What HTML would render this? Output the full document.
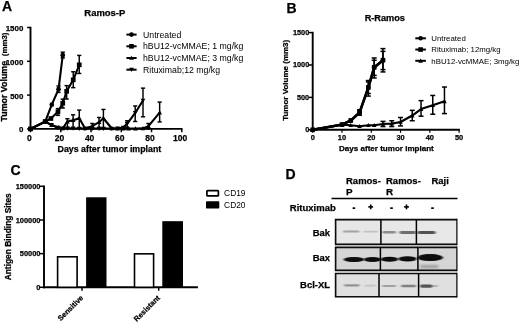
<!DOCTYPE html>
<html><head><meta charset="utf-8"><style>
html,body{margin:0;padding:0;background:#fff;}svg{display:block}text{font-family:"Liberation Sans",sans-serif;fill:#000}
</style></head><body>
<svg width="520" height="322" viewBox="0 0 520 322">
<defs><filter id="bl" x="-20%" y="-100%" width="140%" height="300%"><feGaussianBlur stdDeviation="1.3 0.7"/></filter>
<filter id="bl2" x="-20%" y="-100%" width="140%" height="300%"><feGaussianBlur stdDeviation="1.5 0.9"/></filter>
<filter id="bl3" x="-20%" y="-100%" width="140%" height="300%"><feGaussianBlur stdDeviation="1.1 0.6"/></filter><filter id="soft"><feGaussianBlur stdDeviation="0.35"/></filter></defs>
<rect width="520" height="322" fill="#fff"/>
<g filter="url(#soft)">
<text x="2" y="10.8" font-size="14" font-weight="bold" text-anchor="start"  stroke="#000" stroke-width="0.25">A</text>
<text x="104.8" y="16.0" font-size="8.7" font-weight="bold" text-anchor="middle"  textLength="41" lengthAdjust="spacingAndGlyphs" stroke="#000" stroke-width="0.25">Ramos-P</text>
<line x1="30.50" y1="26.80" x2="30.50" y2="129.80" stroke="#000" stroke-width="1.9" />
<line x1="29.60" y1="128.90" x2="182.50" y2="128.90" stroke="#000" stroke-width="1.9" />
<line x1="27.10" y1="128.90" x2="30.50" y2="128.90" stroke="#000" stroke-width="1.5" />
<text x="23.3" y="132.3" font-size="7.9" font-weight="bold" text-anchor="end"  stroke="#000" stroke-width="0.25">0</text>
<line x1="27.10" y1="95.10" x2="30.50" y2="95.10" stroke="#000" stroke-width="1.5" />
<text x="23.3" y="98.5" font-size="7.9" font-weight="bold" text-anchor="end"  stroke="#000" stroke-width="0.25">500</text>
<line x1="27.10" y1="61.30" x2="30.50" y2="61.30" stroke="#000" stroke-width="1.5" />
<text x="23.3" y="64.7" font-size="7.9" font-weight="bold" text-anchor="end"  stroke="#000" stroke-width="0.25">1000</text>
<line x1="27.10" y1="27.50" x2="30.50" y2="27.50" stroke="#000" stroke-width="1.5" />
<text x="23.3" y="30.9" font-size="7.9" font-weight="bold" text-anchor="end"  stroke="#000" stroke-width="0.25">1500</text>
<line x1="30.50" y1="128.90" x2="30.50" y2="132.20" stroke="#000" stroke-width="1.5" />
<text x="29.3" y="140.7" font-size="8.5" font-weight="bold" text-anchor="middle"  stroke="#000" stroke-width="0.25">0</text>
<line x1="60.76" y1="128.90" x2="60.76" y2="132.20" stroke="#000" stroke-width="1.5" />
<text x="59.46" y="140.7" font-size="8.5" font-weight="bold" text-anchor="middle"  stroke="#000" stroke-width="0.25">20</text>
<line x1="91.02" y1="128.90" x2="91.02" y2="132.20" stroke="#000" stroke-width="1.5" />
<text x="89.62" y="140.7" font-size="8.5" font-weight="bold" text-anchor="middle"  stroke="#000" stroke-width="0.25">40</text>
<line x1="121.28" y1="128.90" x2="121.28" y2="132.20" stroke="#000" stroke-width="1.5" />
<text x="119.78" y="140.7" font-size="8.5" font-weight="bold" text-anchor="middle"  stroke="#000" stroke-width="0.25">60</text>
<line x1="151.54" y1="128.90" x2="151.54" y2="132.20" stroke="#000" stroke-width="1.5" />
<text x="149.94" y="140.7" font-size="8.5" font-weight="bold" text-anchor="middle"  stroke="#000" stroke-width="0.25">80</text>
<line x1="181.80" y1="128.90" x2="181.80" y2="132.20" stroke="#000" stroke-width="1.5" />
<text x="180.10000000000002" y="140.7" font-size="8.5" font-weight="bold" text-anchor="middle"  stroke="#000" stroke-width="0.25">100</text>
<text x="109.4" y="151.7" font-size="8.5" font-weight="bold" text-anchor="middle"  textLength="103.6" lengthAdjust="spacingAndGlyphs" stroke="#000" stroke-width="0.25">Days after tumor implant</text>
<text transform="translate(7.3,121.5) rotate(-90)" font-size="8.8" font-weight="bold" stroke="#000" stroke-width="0.3" textLength="60.6" lengthAdjust="spacingAndGlyphs">Tumor Volume</text>
<text transform="translate(7.0,56.2) rotate(-90)" font-size="8.0" font-weight="bold" stroke="#000" stroke-width="0.25" textLength="23.6" lengthAdjust="spacingAndGlyphs">(mm3)</text>
<line x1="127.10" y1="127.21" x2="127.10" y2="120.79" stroke="#000" stroke-width="1.45" />
<line x1="125.00" y1="127.21" x2="129.20" y2="127.21" stroke="#000" stroke-width="1.45" />
<line x1="125.00" y1="120.79" x2="129.20" y2="120.79" stroke="#000" stroke-width="1.45" />
<line x1="135.20" y1="121.46" x2="135.20" y2="105.98" stroke="#000" stroke-width="1.45" />
<line x1="133.10" y1="121.46" x2="137.30" y2="121.46" stroke="#000" stroke-width="1.45" />
<line x1="133.10" y1="105.98" x2="137.30" y2="105.98" stroke="#000" stroke-width="1.45" />
<line x1="143.00" y1="116.80" x2="143.00" y2="88.14" stroke="#000" stroke-width="1.45" />
<line x1="140.90" y1="116.80" x2="145.10" y2="116.80" stroke="#000" stroke-width="1.45" />
<line x1="140.90" y1="88.14" x2="145.10" y2="88.14" stroke="#000" stroke-width="1.45" />
<polyline points="30.50,128.90 45.20,121.60 51.50,124.84 58.25,127.68 62.75,128.36 67.40,128.36 73.10,128.49 79.25,128.56 84.95,128.56 92.30,128.56 99.05,128.56 103.40,128.56 111.80,128.56 117.50,128.36 123.20,127.55 127.10,123.83 135.20,112.95 143.00,100.51" fill="none" stroke="#000" stroke-width="2.1" stroke-linejoin="round" stroke-linecap="round"/>
<path d="M28.15,127.02 L32.85,127.02 L30.50,131.25Z" fill="#000"/>
<path d="M42.85,119.72 L47.55,119.72 L45.20,123.95Z" fill="#000"/>
<path d="M49.15,122.96 L53.85,122.96 L51.50,127.19Z" fill="#000"/>
<path d="M55.90,125.80 L60.60,125.80 L58.25,130.03Z" fill="#000"/>
<path d="M60.40,126.48 L65.10,126.48 L62.75,130.71Z" fill="#000"/>
<path d="M65.05,126.48 L69.75,126.48 L67.40,130.71Z" fill="#000"/>
<path d="M70.75,126.61 L75.45,126.61 L73.10,130.84Z" fill="#000"/>
<path d="M76.90,126.68 L81.60,126.68 L79.25,130.91Z" fill="#000"/>
<path d="M82.60,126.68 L87.30,126.68 L84.95,130.91Z" fill="#000"/>
<path d="M89.95,126.68 L94.65,126.68 L92.30,130.91Z" fill="#000"/>
<path d="M96.70,126.68 L101.40,126.68 L99.05,130.91Z" fill="#000"/>
<path d="M101.05,126.68 L105.75,126.68 L103.40,130.91Z" fill="#000"/>
<path d="M109.45,126.68 L114.15,126.68 L111.80,130.91Z" fill="#000"/>
<path d="M115.15,126.48 L119.85,126.48 L117.50,130.71Z" fill="#000"/>
<path d="M120.85,125.67 L125.55,125.67 L123.20,129.90Z" fill="#000"/>
<path d="M124.75,121.95 L129.45,121.95 L127.10,126.18Z" fill="#000"/>
<path d="M132.85,111.07 L137.55,111.07 L135.20,115.30Z" fill="#000"/>
<path d="M140.65,98.63 L145.35,98.63 L143.00,102.86Z" fill="#000"/>
<line x1="67.40" y1="127.55" x2="67.40" y2="118.76" stroke="#000" stroke-width="1.45" />
<line x1="65.30" y1="127.55" x2="69.50" y2="127.55" stroke="#000" stroke-width="1.45" />
<line x1="65.30" y1="118.76" x2="69.50" y2="118.76" stroke="#000" stroke-width="1.45" />
<line x1="73.10" y1="127.89" x2="73.10" y2="114.84" stroke="#000" stroke-width="1.45" />
<line x1="71.00" y1="127.89" x2="75.20" y2="127.89" stroke="#000" stroke-width="1.45" />
<line x1="71.00" y1="114.84" x2="75.20" y2="114.84" stroke="#000" stroke-width="1.45" />
<line x1="79.25" y1="127.89" x2="79.25" y2="110.11" stroke="#000" stroke-width="1.45" />
<line x1="77.15" y1="127.89" x2="81.35" y2="127.89" stroke="#000" stroke-width="1.45" />
<line x1="77.15" y1="110.11" x2="81.35" y2="110.11" stroke="#000" stroke-width="1.45" />
<line x1="92.30" y1="128.90" x2="92.30" y2="123.49" stroke="#000" stroke-width="1.45" />
<line x1="90.20" y1="128.90" x2="94.40" y2="128.90" stroke="#000" stroke-width="1.45" />
<line x1="90.20" y1="123.49" x2="94.40" y2="123.49" stroke="#000" stroke-width="1.45" />
<line x1="99.05" y1="127.55" x2="99.05" y2="117.48" stroke="#000" stroke-width="1.45" />
<line x1="96.95" y1="127.55" x2="101.15" y2="127.55" stroke="#000" stroke-width="1.45" />
<line x1="96.95" y1="117.48" x2="101.15" y2="117.48" stroke="#000" stroke-width="1.45" />
<line x1="103.40" y1="127.89" x2="103.40" y2="109.43" stroke="#000" stroke-width="1.45" />
<line x1="101.30" y1="127.89" x2="105.50" y2="127.89" stroke="#000" stroke-width="1.45" />
<line x1="101.30" y1="109.43" x2="105.50" y2="109.43" stroke="#000" stroke-width="1.45" />
<line x1="148.40" y1="128.90" x2="148.40" y2="123.49" stroke="#000" stroke-width="1.45" />
<line x1="146.30" y1="128.90" x2="150.50" y2="128.90" stroke="#000" stroke-width="1.45" />
<line x1="146.30" y1="123.49" x2="150.50" y2="123.49" stroke="#000" stroke-width="1.45" />
<line x1="159.65" y1="121.94" x2="159.65" y2="102.06" stroke="#000" stroke-width="1.45" />
<line x1="157.55" y1="121.94" x2="161.75" y2="121.94" stroke="#000" stroke-width="1.45" />
<line x1="157.55" y1="102.06" x2="161.75" y2="102.06" stroke="#000" stroke-width="1.45" />
<polyline points="30.50,128.90 45.20,121.60 51.50,125.18 58.25,127.41 62.75,128.36 67.40,121.53 73.10,120.18 79.25,118.22 84.95,128.36 92.30,126.20 99.05,122.21 103.40,118.22 111.80,128.49 117.50,128.56 123.20,128.56 128.60,128.56 135.50,128.56 143.00,128.36 148.40,126.13 159.65,112.68" fill="none" stroke="#000" stroke-width="2.1" stroke-linejoin="round" stroke-linecap="round"/>
<path d="M28.15,130.78 L32.85,130.78 L30.50,126.55Z" fill="#000"/>
<path d="M42.85,123.48 L47.55,123.48 L45.20,119.25Z" fill="#000"/>
<path d="M49.15,127.06 L53.85,127.06 L51.50,122.83Z" fill="#000"/>
<path d="M55.90,129.29 L60.60,129.29 L58.25,125.06Z" fill="#000"/>
<path d="M60.40,130.24 L65.10,130.24 L62.75,126.01Z" fill="#000"/>
<path d="M65.05,123.41 L69.75,123.41 L67.40,119.18Z" fill="#000"/>
<path d="M70.75,122.06 L75.45,122.06 L73.10,117.83Z" fill="#000"/>
<path d="M76.90,120.10 L81.60,120.10 L79.25,115.87Z" fill="#000"/>
<path d="M82.60,130.24 L87.30,130.24 L84.95,126.01Z" fill="#000"/>
<path d="M89.95,128.08 L94.65,128.08 L92.30,123.85Z" fill="#000"/>
<path d="M96.70,124.09 L101.40,124.09 L99.05,119.86Z" fill="#000"/>
<path d="M101.05,120.10 L105.75,120.10 L103.40,115.87Z" fill="#000"/>
<path d="M109.45,130.37 L114.15,130.37 L111.80,126.14Z" fill="#000"/>
<path d="M115.15,130.44 L119.85,130.44 L117.50,126.21Z" fill="#000"/>
<path d="M120.85,130.44 L125.55,130.44 L123.20,126.21Z" fill="#000"/>
<path d="M126.25,130.44 L130.95,130.44 L128.60,126.21Z" fill="#000"/>
<path d="M133.15,130.44 L137.85,130.44 L135.50,126.21Z" fill="#000"/>
<path d="M140.65,130.24 L145.35,130.24 L143.00,126.01Z" fill="#000"/>
<path d="M146.05,128.01 L150.75,128.01 L148.40,123.78Z" fill="#000"/>
<path d="M157.30,114.56 L162.00,114.56 L159.65,110.33Z" fill="#000"/>
<line x1="57.95" y1="115.38" x2="57.95" y2="108.62" stroke="#000" stroke-width="1.45" />
<line x1="55.85" y1="115.38" x2="60.05" y2="115.38" stroke="#000" stroke-width="1.45" />
<line x1="55.85" y1="108.62" x2="60.05" y2="108.62" stroke="#000" stroke-width="1.45" />
<line x1="62.75" y1="108.01" x2="62.75" y2="99.16" stroke="#000" stroke-width="1.45" />
<line x1="60.65" y1="108.01" x2="64.85" y2="108.01" stroke="#000" stroke-width="1.45" />
<line x1="60.65" y1="99.16" x2="64.85" y2="99.16" stroke="#000" stroke-width="1.45" />
<line x1="66.65" y1="99.02" x2="66.65" y2="85.64" stroke="#000" stroke-width="1.45" />
<line x1="64.55" y1="99.02" x2="68.75" y2="99.02" stroke="#000" stroke-width="1.45" />
<line x1="64.55" y1="85.64" x2="68.75" y2="85.64" stroke="#000" stroke-width="1.45" />
<line x1="73.25" y1="87.66" x2="73.25" y2="71.78" stroke="#000" stroke-width="1.45" />
<line x1="71.15" y1="87.66" x2="75.35" y2="87.66" stroke="#000" stroke-width="1.45" />
<line x1="71.15" y1="71.78" x2="75.35" y2="71.78" stroke="#000" stroke-width="1.45" />
<line x1="79.25" y1="73.47" x2="79.25" y2="55.42" stroke="#000" stroke-width="1.45" />
<line x1="77.15" y1="73.47" x2="81.35" y2="73.47" stroke="#000" stroke-width="1.45" />
<line x1="77.15" y1="55.42" x2="81.35" y2="55.42" stroke="#000" stroke-width="1.45" />
<polyline points="30.50,128.90 45.20,121.60 50.90,118.49 57.95,111.80 62.75,103.21 66.65,91.31 73.25,79.82 79.25,64.82" fill="none" stroke="#000" stroke-width="2.1" stroke-linejoin="round" stroke-linecap="round"/>
<rect x="28.15" y="126.55" width="4.7" height="4.7" fill="#000"/>
<rect x="42.85" y="119.25" width="4.7" height="4.7" fill="#000"/>
<rect x="48.55" y="116.14" width="4.7" height="4.7" fill="#000"/>
<rect x="55.60" y="109.45" width="4.7" height="4.7" fill="#000"/>
<rect x="60.40" y="100.86" width="4.7" height="4.7" fill="#000"/>
<rect x="64.30" y="88.96" width="4.7" height="4.7" fill="#000"/>
<rect x="70.90" y="77.47" width="4.7" height="4.7" fill="#000"/>
<rect x="76.90" y="62.47" width="4.7" height="4.7" fill="#000"/>
<line x1="58.55" y1="92.40" x2="58.55" y2="85.97" stroke="#000" stroke-width="1.45" />
<line x1="56.45" y1="92.40" x2="60.65" y2="92.40" stroke="#000" stroke-width="1.45" />
<line x1="56.45" y1="85.97" x2="60.65" y2="85.97" stroke="#000" stroke-width="1.45" />
<line x1="62.75" y1="57.92" x2="62.75" y2="52.17" stroke="#000" stroke-width="1.45" />
<line x1="60.65" y1="57.92" x2="64.85" y2="57.92" stroke="#000" stroke-width="1.45" />
<line x1="60.65" y1="52.17" x2="64.85" y2="52.17" stroke="#000" stroke-width="1.45" />
<polyline points="30.50,128.90 45.20,121.60 51.80,104.63 58.55,89.22 62.75,55.22" fill="none" stroke="#000" stroke-width="2.1" stroke-linejoin="round" stroke-linecap="round"/>
<circle cx="30.50" cy="128.90" r="2.35" fill="#000"/>
<circle cx="45.20" cy="121.60" r="2.35" fill="#000"/>
<circle cx="51.80" cy="104.63" r="2.35" fill="#000"/>
<circle cx="58.55" cy="89.22" r="2.35" fill="#000"/>
<circle cx="62.75" cy="55.22" r="2.35" fill="#000"/>
<line x1="126.40" y1="34.60" x2="136.60" y2="34.60" stroke="#000" stroke-width="2.0" />
<circle cx="131.50" cy="34.60" r="2.3" fill="#000"/>
<text x="143" y="37.7" font-size="8.73" font-weight="normal" text-anchor="start" >Untreated</text>
<line x1="126.40" y1="46.30" x2="136.60" y2="46.30" stroke="#000" stroke-width="2.0" />
<rect x="129.20" y="44.00" width="4.6" height="4.6" fill="#000"/>
<text x="143" y="49.4" font-size="8.73" font-weight="normal" text-anchor="start" >hBU12-vcMMAE; 1 mg/kg</text>
<line x1="126.40" y1="58.00" x2="136.60" y2="58.00" stroke="#000" stroke-width="2.0" />
<path d="M129.20,59.84 L133.80,59.84 L131.50,55.70Z" fill="#000"/>
<text x="143" y="61.1" font-size="8.73" font-weight="normal" text-anchor="start" >hBU12-vcMMAE; 3 mg/kg</text>
<line x1="126.40" y1="69.70" x2="136.60" y2="69.70" stroke="#000" stroke-width="2.0" />
<path d="M129.20,67.86 L133.80,67.86 L131.50,72.00Z" fill="#000"/>
<text x="143" y="72.79999999999998" font-size="8.73" font-weight="normal" text-anchor="start" >Rituximab;12 mg/kg</text>
<text x="286.5" y="13.1" font-size="14" font-weight="bold" text-anchor="start"  stroke="#000" stroke-width="0.25">B</text>
<text x="384.8" y="21.1" font-size="8.6" font-weight="bold" text-anchor="middle"  textLength="40.3" lengthAdjust="spacingAndGlyphs" stroke="#000" stroke-width="0.25">R-Ramos</text>
<line x1="312.70" y1="31.80" x2="312.70" y2="130.70" stroke="#000" stroke-width="1.9" />
<line x1="311.80" y1="129.80" x2="459.90" y2="129.80" stroke="#000" stroke-width="1.9" />
<line x1="308.70" y1="129.80" x2="312.70" y2="129.80" stroke="#000" stroke-width="1.5" />
<text x="309.2" y="131.9" font-size="7.3" font-weight="bold" text-anchor="end"  stroke="#000" stroke-width="0.25">0</text>
<line x1="308.70" y1="97.40" x2="312.70" y2="97.40" stroke="#000" stroke-width="1.5" />
<text x="309.2" y="99.5" font-size="7.3" font-weight="bold" text-anchor="end"  stroke="#000" stroke-width="0.25">500</text>
<line x1="308.70" y1="65.00" x2="312.70" y2="65.00" stroke="#000" stroke-width="1.5" />
<text x="309.2" y="67.10000000000001" font-size="7.3" font-weight="bold" text-anchor="end"  stroke="#000" stroke-width="0.25">1000</text>
<line x1="308.70" y1="32.60" x2="312.70" y2="32.60" stroke="#000" stroke-width="1.5" />
<text x="309.2" y="34.700000000000024" font-size="7.3" font-weight="bold" text-anchor="end"  stroke="#000" stroke-width="0.25">1500</text>
<line x1="312.70" y1="129.80" x2="312.70" y2="132.80" stroke="#000" stroke-width="1.2" />
<text x="312.7" y="140.0" font-size="7.4" font-weight="bold" text-anchor="middle"  stroke="#000" stroke-width="0.25">0</text>
<line x1="341.98" y1="129.80" x2="341.98" y2="132.80" stroke="#000" stroke-width="1.2" />
<text x="341.98" y="140.0" font-size="7.4" font-weight="bold" text-anchor="middle"  stroke="#000" stroke-width="0.25">10</text>
<line x1="371.26" y1="129.80" x2="371.26" y2="132.80" stroke="#000" stroke-width="1.2" />
<text x="371.26" y="140.0" font-size="7.4" font-weight="bold" text-anchor="middle"  stroke="#000" stroke-width="0.25">20</text>
<line x1="400.54" y1="129.80" x2="400.54" y2="132.80" stroke="#000" stroke-width="1.2" />
<text x="400.53999999999996" y="140.0" font-size="7.4" font-weight="bold" text-anchor="middle"  stroke="#000" stroke-width="0.25">30</text>
<line x1="429.82" y1="129.80" x2="429.82" y2="132.80" stroke="#000" stroke-width="1.2" />
<text x="429.82" y="140.0" font-size="7.4" font-weight="bold" text-anchor="middle"  stroke="#000" stroke-width="0.25">40</text>
<line x1="459.10" y1="129.80" x2="459.10" y2="132.80" stroke="#000" stroke-width="1.2" />
<text x="459.1" y="140.0" font-size="7.4" font-weight="bold" text-anchor="middle"  stroke="#000" stroke-width="0.25">50</text>
<text x="386.4" y="151.3" font-size="7.7" font-weight="bold" text-anchor="middle"  textLength="94.8" lengthAdjust="spacingAndGlyphs" stroke="#000" stroke-width="0.25">Days after tumor implant</text>
<text transform="translate(288.4,80.3) rotate(-90)" font-size="8.0" font-weight="bold" stroke="#000" stroke-width="0.25" text-anchor="middle">Tumor Volume (mm3)</text>
<line x1="382.97" y1="126.56" x2="382.97" y2="121.38" stroke="#000" stroke-width="1.5" />
<line x1="380.47" y1="126.56" x2="385.47" y2="126.56" stroke="#000" stroke-width="1.5" />
<line x1="380.47" y1="121.38" x2="385.47" y2="121.38" stroke="#000" stroke-width="1.5" />
<line x1="391.76" y1="126.56" x2="391.76" y2="120.73" stroke="#000" stroke-width="1.5" />
<line x1="389.26" y1="126.56" x2="394.26" y2="126.56" stroke="#000" stroke-width="1.5" />
<line x1="389.26" y1="120.73" x2="394.26" y2="120.73" stroke="#000" stroke-width="1.5" />
<line x1="400.54" y1="125.91" x2="400.54" y2="117.49" stroke="#000" stroke-width="1.5" />
<line x1="398.04" y1="125.91" x2="403.04" y2="125.91" stroke="#000" stroke-width="1.5" />
<line x1="398.04" y1="117.49" x2="403.04" y2="117.49" stroke="#000" stroke-width="1.5" />
<line x1="412.25" y1="120.73" x2="412.25" y2="110.36" stroke="#000" stroke-width="1.5" />
<line x1="409.75" y1="120.73" x2="414.75" y2="120.73" stroke="#000" stroke-width="1.5" />
<line x1="409.75" y1="110.36" x2="414.75" y2="110.36" stroke="#000" stroke-width="1.5" />
<line x1="421.04" y1="116.19" x2="421.04" y2="100.64" stroke="#000" stroke-width="1.5" />
<line x1="418.54" y1="116.19" x2="423.54" y2="116.19" stroke="#000" stroke-width="1.5" />
<line x1="418.54" y1="100.64" x2="423.54" y2="100.64" stroke="#000" stroke-width="1.5" />
<line x1="432.75" y1="114.25" x2="432.75" y2="95.46" stroke="#000" stroke-width="1.5" />
<line x1="430.25" y1="114.25" x2="435.25" y2="114.25" stroke="#000" stroke-width="1.5" />
<line x1="430.25" y1="95.46" x2="435.25" y2="95.46" stroke="#000" stroke-width="1.5" />
<line x1="444.46" y1="113.60" x2="444.46" y2="87.03" stroke="#000" stroke-width="1.5" />
<line x1="441.96" y1="113.60" x2="446.96" y2="113.60" stroke="#000" stroke-width="1.5" />
<line x1="441.96" y1="87.03" x2="446.96" y2="87.03" stroke="#000" stroke-width="1.5" />
<polyline points="312.70,129.80 341.98,124.62 350.76,125.26 359.55,126.24 368.33,125.26 374.19,125.26 382.97,123.97 391.76,123.64 400.54,122.02 412.25,115.54 421.04,109.06 432.75,105.18 444.46,101.29" fill="none" stroke="#000" stroke-width="2.2" stroke-linejoin="round" stroke-linecap="round"/>
<path d="M310.40,131.64 L315.00,131.64 L312.70,127.50Z" fill="#000"/>
<path d="M339.68,126.46 L344.28,126.46 L341.98,122.32Z" fill="#000"/>
<path d="M348.46,127.10 L353.06,127.10 L350.76,122.96Z" fill="#000"/>
<path d="M357.25,128.08 L361.85,128.08 L359.55,123.94Z" fill="#000"/>
<path d="M366.03,127.10 L370.63,127.10 L368.33,122.96Z" fill="#000"/>
<path d="M371.89,127.10 L376.49,127.10 L374.19,122.96Z" fill="#000"/>
<path d="M380.67,125.81 L385.27,125.81 L382.97,121.67Z" fill="#000"/>
<path d="M389.46,125.48 L394.06,125.48 L391.76,121.34Z" fill="#000"/>
<path d="M398.24,123.86 L402.84,123.86 L400.54,119.72Z" fill="#000"/>
<path d="M409.95,117.38 L414.55,117.38 L412.25,113.24Z" fill="#000"/>
<path d="M418.74,110.90 L423.34,110.90 L421.04,106.76Z" fill="#000"/>
<path d="M430.45,107.02 L435.05,107.02 L432.75,102.88Z" fill="#000"/>
<path d="M442.16,103.13 L446.76,103.13 L444.46,98.99Z" fill="#000"/>
<line x1="359.55" y1="115.22" x2="359.55" y2="109.71" stroke="#000" stroke-width="1.5" />
<line x1="357.05" y1="115.22" x2="362.05" y2="115.22" stroke="#000" stroke-width="1.5" />
<line x1="357.05" y1="109.71" x2="362.05" y2="109.71" stroke="#000" stroke-width="1.5" />
<line x1="368.33" y1="96.10" x2="368.33" y2="80.55" stroke="#000" stroke-width="1.5" />
<line x1="365.83" y1="96.10" x2="370.83" y2="96.10" stroke="#000" stroke-width="1.5" />
<line x1="365.83" y1="80.55" x2="370.83" y2="80.55" stroke="#000" stroke-width="1.5" />
<line x1="374.19" y1="77.96" x2="374.19" y2="58.00" stroke="#000" stroke-width="1.5" />
<line x1="371.69" y1="77.96" x2="376.69" y2="77.96" stroke="#000" stroke-width="1.5" />
<line x1="371.69" y1="58.00" x2="376.69" y2="58.00" stroke="#000" stroke-width="1.5" />
<line x1="382.97" y1="71.93" x2="382.97" y2="48.61" stroke="#000" stroke-width="1.5" />
<line x1="380.47" y1="71.93" x2="385.47" y2="71.93" stroke="#000" stroke-width="1.5" />
<line x1="380.47" y1="48.61" x2="385.47" y2="48.61" stroke="#000" stroke-width="1.5" />
<polyline points="312.70,129.80 341.98,124.62 350.76,120.73 359.55,112.63 368.33,87.68 374.19,67.59 382.97,60.46" fill="none" stroke="#000" stroke-width="2.5" stroke-linejoin="round" stroke-linecap="round"/>
<circle cx="312.70" cy="129.80" r="2.3" fill="#000"/>
<circle cx="341.98" cy="124.62" r="2.3" fill="#000"/>
<circle cx="350.76" cy="120.73" r="2.3" fill="#000"/>
<circle cx="359.55" cy="112.63" r="2.3" fill="#000"/>
<circle cx="368.33" cy="87.68" r="2.3" fill="#000"/>
<circle cx="374.19" cy="67.59" r="2.3" fill="#000"/>
<circle cx="382.97" cy="60.46" r="2.3" fill="#000"/>
<line x1="368.33" y1="93.51" x2="368.33" y2="81.85" stroke="#000" stroke-width="1.5" />
<line x1="365.83" y1="93.51" x2="370.83" y2="93.51" stroke="#000" stroke-width="1.5" />
<line x1="365.83" y1="81.85" x2="370.83" y2="81.85" stroke="#000" stroke-width="1.5" />
<line x1="374.19" y1="75.37" x2="374.19" y2="60.27" stroke="#000" stroke-width="1.5" />
<line x1="371.69" y1="75.37" x2="376.69" y2="75.37" stroke="#000" stroke-width="1.5" />
<line x1="371.69" y1="60.27" x2="376.69" y2="60.27" stroke="#000" stroke-width="1.5" />
<line x1="382.97" y1="69.60" x2="382.97" y2="51.39" stroke="#000" stroke-width="1.5" />
<line x1="380.47" y1="69.60" x2="385.47" y2="69.60" stroke="#000" stroke-width="1.5" />
<line x1="380.47" y1="51.39" x2="385.47" y2="51.39" stroke="#000" stroke-width="1.5" />
<polyline points="312.70,129.80 341.98,124.62 350.76,120.40 359.55,112.30 368.33,87.36 374.19,67.27 382.97,60.14" fill="none" stroke="#000" stroke-width="2.5" stroke-linejoin="round" stroke-linecap="round"/>
<rect x="310.40" y="127.50" width="4.6" height="4.6" fill="#000"/>
<rect x="339.68" y="122.32" width="4.6" height="4.6" fill="#000"/>
<rect x="348.46" y="118.10" width="4.6" height="4.6" fill="#000"/>
<rect x="357.25" y="110.00" width="4.6" height="4.6" fill="#000"/>
<rect x="366.03" y="85.06" width="4.6" height="4.6" fill="#000"/>
<rect x="371.89" y="64.97" width="4.6" height="4.6" fill="#000"/>
<rect x="380.67" y="57.84" width="4.6" height="4.6" fill="#000"/>
<line x1="415.30" y1="38.30" x2="425.90" y2="38.30" stroke="#000" stroke-width="2.0" />
<circle cx="420.60" cy="38.30" r="2.3" fill="#000"/>
<text x="431.3" y="41.099999999999994" font-size="7.85" font-weight="normal" text-anchor="start" >Untreated</text>
<line x1="415.30" y1="49.55" x2="425.90" y2="49.55" stroke="#000" stroke-width="2.0" />
<rect x="418.30" y="47.25" width="4.6" height="4.6" fill="#000"/>
<text x="431.3" y="52.349999999999994" font-size="7.85" font-weight="normal" text-anchor="start" >Rituximab; 12mg/kg</text>
<line x1="415.30" y1="60.80" x2="425.90" y2="60.80" stroke="#000" stroke-width="2.0" />
<path d="M418.30,62.64 L422.90,62.64 L420.60,58.50Z" fill="#000"/>
<text x="431.3" y="63.599999999999994" font-size="7.85" font-weight="normal" text-anchor="start" >hBU12-vcMMAE; 3mg/kg</text>
<text x="10.4" y="174.5" font-size="14" font-weight="bold" text-anchor="start"  stroke="#000" stroke-width="0.25">C</text>
<line x1="44.00" y1="185.60" x2="44.00" y2="288.20" stroke="#000" stroke-width="1.9" />
<line x1="43.10" y1="287.30" x2="197.90" y2="287.30" stroke="#000" stroke-width="1.9" />
<line x1="40.00" y1="287.30" x2="44.00" y2="287.30" stroke="#000" stroke-width="1.5" />
<text x="40.4" y="289.90000000000003" font-size="7.4" font-weight="bold" text-anchor="end"  stroke="#000" stroke-width="0.25">0</text>
<line x1="40.00" y1="253.63" x2="44.00" y2="253.63" stroke="#000" stroke-width="1.5" />
<text x="40.4" y="256.23333333333335" font-size="7.4" font-weight="bold" text-anchor="end"  stroke="#000" stroke-width="0.25">50000</text>
<line x1="40.00" y1="219.97" x2="44.00" y2="219.97" stroke="#000" stroke-width="1.5" />
<text x="40.4" y="222.5666666666667" font-size="7.4" font-weight="bold" text-anchor="end"  stroke="#000" stroke-width="0.25">100000</text>
<line x1="40.00" y1="186.30" x2="44.00" y2="186.30" stroke="#000" stroke-width="1.5" />
<text x="40.4" y="188.9" font-size="7.4" font-weight="bold" text-anchor="end"  stroke="#000" stroke-width="0.25">150000</text>
<text transform="translate(11,236.8) rotate(-90)" font-size="8.4" font-weight="bold" stroke="#000" stroke-width="0.25" text-anchor="middle">Antigen Binding Sites</text>
<rect x="57.6" y="256.80" width="19.499999999999993" height="30.50" fill="#fff" stroke="#000" stroke-width="1.6"/>
<rect x="86.1" y="197.28" width="20.400000000000006" height="90.02" fill="#000" stroke="#000" stroke-width="0"/>
<rect x="134.5" y="253.84" width="19.099999999999994" height="33.46" fill="#fff" stroke="#000" stroke-width="1.6"/>
<rect x="162.3" y="221.18" width="20.69999999999999" height="66.12" fill="#000" stroke="#000" stroke-width="0"/>
<line x1="82.00" y1="287.30" x2="82.00" y2="290.70" stroke="#000" stroke-width="1.5" />
<line x1="158.70" y1="287.30" x2="158.70" y2="290.70" stroke="#000" stroke-width="1.5" />
<text transform="translate(83.7,298.3) rotate(-45)" font-size="7.4" font-weight="bold" stroke="#000" stroke-width="0.25" text-anchor="end">Sensitive</text>
<text transform="translate(160.4,298.4) rotate(-45)" font-size="7.4" font-weight="bold" stroke="#000" stroke-width="0.25" text-anchor="end">Resistant</text>
<rect x="206.9" y="190.55" width="11.5" height="5.4" fill="#fff" stroke="#000" stroke-width="1.7" rx="0.8"/>
<rect x="206.0" y="201.3" width="13.3" height="7.2" fill="#000" rx="0.8"/>
<text x="224.1" y="195.8" font-size="8.4" font-weight="normal" text-anchor="start" >CD19</text>
<text x="224.1" y="207.6" font-size="8.4" font-weight="normal" text-anchor="start" >CD20</text>
</g>
<g filter="url(#soft)">
<text x="285.4" y="179.2" font-size="14" font-weight="bold" text-anchor="start"  stroke="#000" stroke-width="0.25">D</text>
<text x="346" y="184.0" font-size="9.9" font-weight="bold" text-anchor="start"  textLength="34.8" lengthAdjust="spacingAndGlyphs" stroke="#000" stroke-width="0.25">Ramos-</text>
<text x="346" y="194.9" font-size="9.9" font-weight="bold" text-anchor="start"  stroke="#000" stroke-width="0.25">P</text>
<text x="386" y="184.0" font-size="9.9" font-weight="bold" text-anchor="start"  textLength="34.8" lengthAdjust="spacingAndGlyphs" stroke="#000" stroke-width="0.25">Ramos-</text>
<text x="386" y="194.9" font-size="9.9" font-weight="bold" text-anchor="start"  stroke="#000" stroke-width="0.25">R</text>
<text x="431.5" y="184.0" font-size="9.9" font-weight="bold" text-anchor="start"  textLength="17.4" lengthAdjust="spacingAndGlyphs" stroke="#000" stroke-width="0.25">Raji</text>
<line x1="331.50" y1="198.50" x2="457.50" y2="198.50" stroke="#000" stroke-width="1.4" />
<text x="289.8" y="210.7" font-size="9.5" font-weight="bold" text-anchor="start"  stroke="#000" stroke-width="0.25">Rituximab</text>
<rect x="352.59999999999997" y="207.3" width="2.6" height="1.7" fill="#000"/>
<rect x="368.3" y="206.1" width="4.8" height="1.6" fill="#000"/><rect x="369.9" y="204.5" width="1.6" height="4.8" fill="#000"/>
<rect x="390.2" y="207.3" width="2.6" height="1.7" fill="#000"/>
<rect x="404.1" y="206.1" width="4.8" height="1.6" fill="#000"/><rect x="405.7" y="204.5" width="1.6" height="4.8" fill="#000"/>
<rect x="431.2" y="207.3" width="2.6" height="1.7" fill="#000"/>
<text x="330" y="236.3" font-size="9.45" font-weight="bold" text-anchor="end"  stroke="#000" stroke-width="0.25">Bak</text>
<text x="330" y="261.3" font-size="9.45" font-weight="bold" text-anchor="end"  stroke="#000" stroke-width="0.25">Bax</text>
<text x="330" y="288.2" font-size="9.45" font-weight="bold" text-anchor="end"  stroke="#000" stroke-width="0.25">Bcl-XL</text>
</g>
<rect x="335.6" y="219.6" width="121.3" height="24.80000000000001" fill="#e7e7e7"/>
<rect x="335.6" y="247.4" width="121.3" height="22.99999999999997" fill="#d5d5d5"/>
<rect x="335.6" y="273.5" width="121.3" height="23.30000000000001" fill="#e0e0e0"/>
<rect x="343" y="230.40" width="16.5" height="2.0" rx="1.0" fill="#0a0a0a" opacity="0.3" filter="url(#bl)"/>
<rect x="363.5" y="230.80" width="14.5" height="1.8" rx="0.9" fill="#0a0a0a" opacity="0.17" filter="url(#bl)"/>
<rect x="382.5" y="231.00" width="13.5" height="2.4" rx="1.2" fill="#0a0a0a" opacity="0.42" filter="url(#bl)"/>
<rect x="399.5" y="231.10" width="16.5" height="2.8" rx="1.4" fill="#0a0a0a" opacity="0.55" filter="url(#bl)"/>
<rect x="417.5" y="231.00" width="18.0" height="3.0" rx="1.5" fill="#0a0a0a" opacity="0.68" filter="url(#bl)"/>
<ellipse cx="353.90" cy="259.5" rx="10.30" ry="2.6" fill="#080808" opacity="1.0" filter="url(#bl3)"/>
<rect x="347" y="257.80" width="14" height="3.4" rx="1.7" fill="#0a0a0a" opacity="1.0" filter="url(#bl3)"/>
<ellipse cx="372.50" cy="259.5" rx="8.70" ry="2.5" fill="#080808" opacity="1.0" filter="url(#bl3)"/>
<rect x="367" y="257.90" width="11" height="3.2" rx="1.6" fill="#0a0a0a" opacity="1.0" filter="url(#bl3)"/>
<ellipse cx="389.50" cy="259.2" rx="8.70" ry="2.5" fill="#080808" opacity="1.0" filter="url(#bl3)"/>
<rect x="384" y="257.60" width="11" height="3.2" rx="1.6" fill="#0a0a0a" opacity="1.0" filter="url(#bl3)"/>
<ellipse cx="407.50" cy="258.9" rx="9.10" ry="2.6" fill="#080808" opacity="1.0" filter="url(#bl3)"/>
<rect x="402" y="257.20" width="11" height="3.4" rx="1.7" fill="#0a0a0a" opacity="1.0" filter="url(#bl3)"/>
<ellipse cx="430.40" cy="257.6" rx="12.60" ry="3.5" fill="#080808" opacity="1.0" filter="url(#bl3)"/>
<rect x="420" y="254.80" width="18" height="5.4" rx="2.7" fill="#0a0a0a" opacity="1.0" filter="url(#bl3)"/>
<rect x="420" y="265.20" width="18.5" height="2.8" rx="1.4" fill="#0a0a0a" opacity="0.3" filter="url(#bl2)"/>
<rect x="344" y="284.20" width="15.5" height="2.2" rx="1.1" fill="#0a0a0a" opacity="0.36" filter="url(#bl)"/>
<rect x="364.5" y="284.80" width="11.5" height="1.8" rx="0.9" fill="#0a0a0a" opacity="0.13" filter="url(#bl)"/>
<rect x="382" y="284.90" width="14" height="2.0" rx="1.0" fill="#0a0a0a" opacity="0.3" filter="url(#bl)"/>
<rect x="401" y="284.80" width="15" height="2.4" rx="1.2" fill="#0a0a0a" opacity="0.45" filter="url(#bl)"/>
<rect x="420" y="284.50" width="12.5" height="3.2" rx="1.6" fill="#0a0a0a" opacity="0.66" filter="url(#bl)"/>
<rect x="432" y="285.10" width="6" height="2.0" rx="1.0" fill="#0a0a0a" opacity="0.22" filter="url(#bl)"/>
<g filter="url(#soft)">
<path d="M456.9,219.6 L335.6,219.6 L335.6,244.4 L456.9,244.4" fill="none" stroke="#0c0c0c" stroke-width="1.6" stroke-linejoin="miter"/>
<line x1="456.90" y1="218.80" x2="456.90" y2="245.20" stroke="#000" stroke-width="1.2" />
<line x1="380.90" y1="219.60" x2="380.90" y2="244.40" stroke="#000" stroke-width="1.5" />
<line x1="416.40" y1="219.60" x2="416.40" y2="244.40" stroke="#000" stroke-width="1.5" />
<path d="M456.9,247.4 L335.6,247.4 L335.6,270.4 L456.9,270.4" fill="none" stroke="#0c0c0c" stroke-width="1.6" stroke-linejoin="miter"/>
<line x1="456.90" y1="246.60" x2="456.90" y2="271.20" stroke="#000" stroke-width="1.2" />
<line x1="380.40" y1="247.40" x2="380.40" y2="270.40" stroke="#000" stroke-width="1.5" />
<line x1="417.90" y1="247.40" x2="417.90" y2="270.40" stroke="#000" stroke-width="1.5" />
<path d="M456.9,273.5 L335.6,273.5 L335.6,296.8 L456.9,296.8" fill="none" stroke="#0c0c0c" stroke-width="1.6" stroke-linejoin="miter"/>
<line x1="456.90" y1="272.70" x2="456.90" y2="297.60" stroke="#000" stroke-width="1.2" />
<line x1="379.00" y1="273.50" x2="379.00" y2="296.80" stroke="#000" stroke-width="1.5" />
<line x1="418.60" y1="273.50" x2="418.60" y2="296.80" stroke="#000" stroke-width="1.5" />
</g>
</svg></body></html>
